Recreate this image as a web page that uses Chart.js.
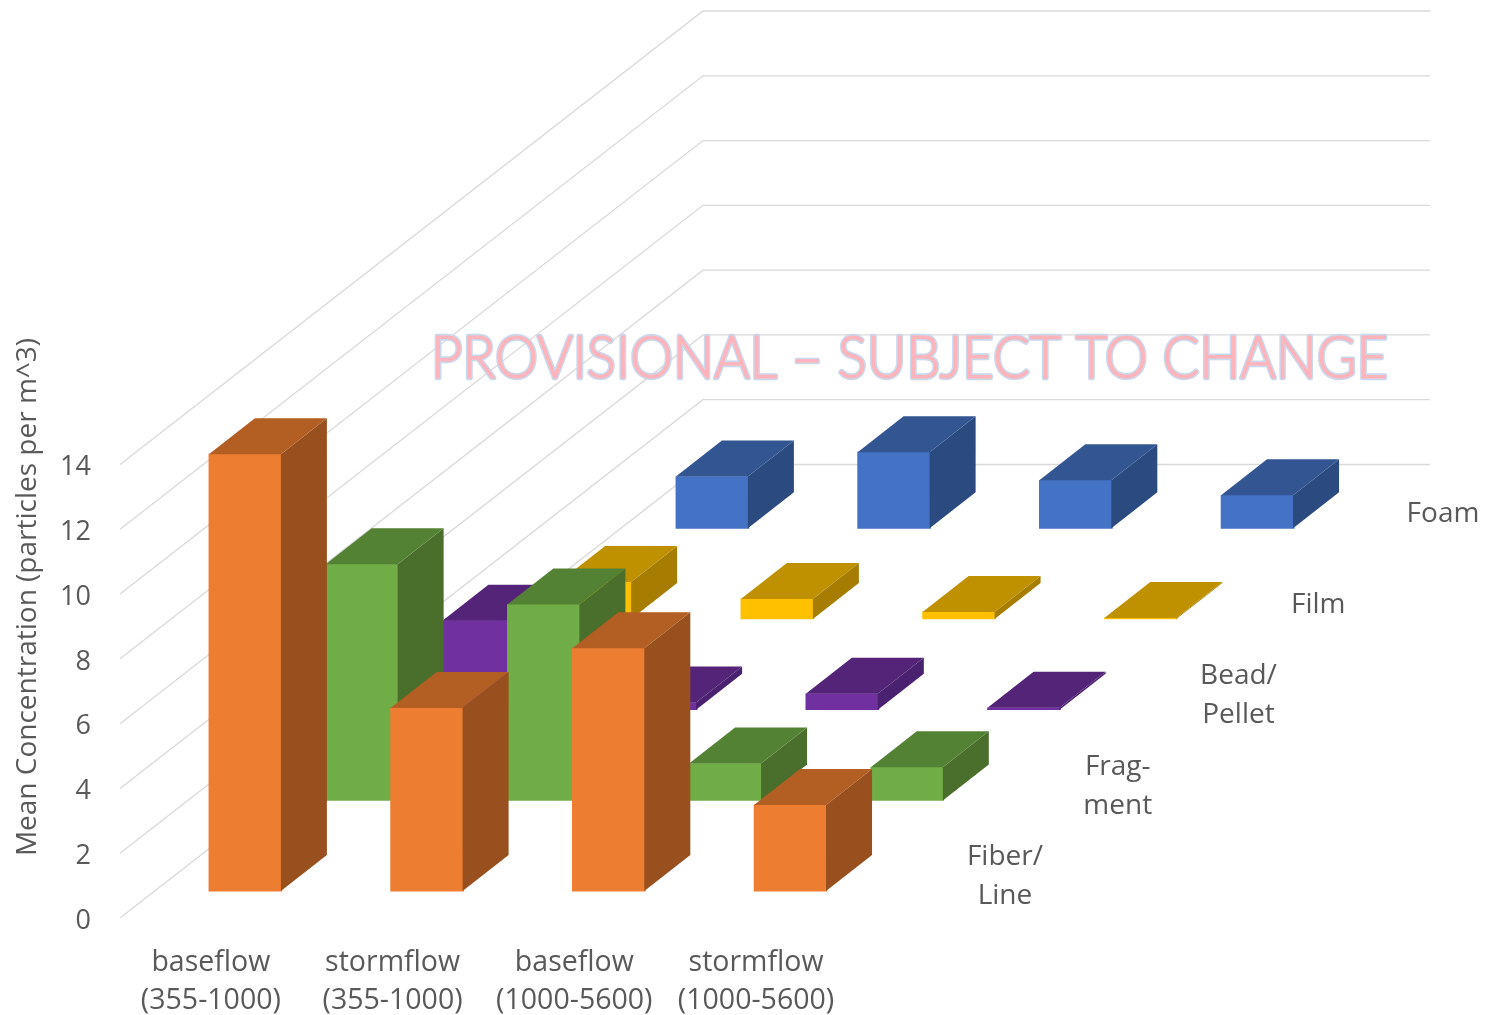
<!DOCTYPE html>
<html>
<head>
<meta charset="utf-8">
<title>Mean Concentration</title>
<script src="https://cdn.jsdelivr.net/npm/chart.js@4"></script>
<style>
    html, body { margin: 0; padding: 0; background: #fff; }
    canvas { display: block; }
</style>
</head>
<body>
<canvas id="concentrationChart" width="1485" height="1015"></canvas>
<script>
// Chart data
const categories = [
    ['baseflow', '(355-1000)'],
    ['stormflow', '(355-1000)'],
    ['baseflow', '(1000-5600)'],
    ['stormflow', '(1000-5600)']
];
const seriesNames = [['Fiber/', 'Line'], ['Frag-', 'ment'], ['Bead/', 'Pellet'], ['Film'], ['Foam']];
const fiberLine = [13.49, 5.65, 7.5, 2.66];
const fragment = [7.29, 6.05, 1.14, 1.02];
const beadPellet = [2.75, 0.22, 0.49, 0.06];
const film = [1.14, 0.62, 0.22, 0.03];
const foam = [1.6, 2.35, 1.48, 1.02];
const yTickValues = [0, 2, 4, 6, 8, 10, 12, 14];

// Colours per series: front, top, side
const frontColors = ['#ED7D31', '#70AD47', '#7030A0', '#FFC000', '#4472C4'];
const topColors = ['#B35E22', '#548235', '#542478', '#BF9000', '#335693'];
const sideColors = ['#97501E', '#4A6F2C', '#4A2070', '#A67D00', '#2A4A80'];
const allSeries = [fiberLine, fragment, beadPellet, film, foam];

// Fake 3D: every row further back moves right and up in scale units
const DEPTH_SHIFT_X = 0.6425;
const DEPTH_SHIFT_Y = 2.8;
const FLOOR_OFFSET = 0.83;
const WALL_SHIFT_X = 3.208;
const WALL_SHIFT_Y = 14;
const BAR_DEPTH_X = 46;
const BAR_DEPTH_Y = 36;
const TEXT_COLOR = '#595959';
const FONT = "'Open Sans', sans-serif";
const WATERMARK = 'PROVISIONAL – SUBJECT TO CHANGE';

const datasets = allSeries.map((values, d) => ({
    label: seriesNames[d].join(' '),
    data: values.map((v, i) => {
        const base = FLOOR_OFFSET + d * DEPTH_SHIFT_Y;
        return { x: i + d * DEPTH_SHIFT_X, y: [base, base + v] };
    }),
    backgroundColor: frontColors[d],
    topColor: topColors[d],
    sideColor: sideColors[d]
}));

function face(ctx, points, color) {
    ctx.fillStyle = color;
    ctx.beginPath();
    points.forEach((p, i) => (i ? ctx.lineTo(p[0], p[1]) : ctx.moveTo(p[0], p[1])));
    ctx.closePath();
    ctx.fill();
}

// Walls behind the bars
const wallsPlugin = {
    id: 'walls',
    beforeDatasetsDraw(chart) {
        const { ctx, scales: { x, y } } = chart;
        ctx.save();
        ctx.strokeStyle = '#D9D9D9';
        ctx.lineWidth = 1.3;
        yTickValues.forEach(v => {
            ctx.beginPath();
            ctx.moveTo(x.left, y.getPixelForValue(v));
            ctx.lineTo(x.getPixelForValue(x.min + WALL_SHIFT_X), y.getPixelForValue(v + WALL_SHIFT_Y));
            ctx.lineTo(x.right, y.getPixelForValue(v + WALL_SHIFT_Y));
            ctx.stroke();
        });
        ctx.restore();
    }
};

// Top and side of each bar, drawn right after its dataset so rows overlap properly
const boxPlugin = {
    id: 'box',
    afterDatasetDraw(chart, args) {
        const { ctx } = chart;
        const ds = chart.data.datasets[args.index];
        chart.getDatasetMeta(args.index).data.forEach(bar => {
            // -1 so no seam shows between the faces
            const right = bar.x + bar.width / 2 - 1;
            const left = bar.x - bar.width / 2;
            face(ctx, [[right, bar.y], [right, bar.base], [right + BAR_DEPTH_X, bar.base - BAR_DEPTH_Y], [right + BAR_DEPTH_X, bar.y - BAR_DEPTH_Y]], ds.sideColor);
            face(ctx, [[left, bar.y], [right, bar.y], [right + BAR_DEPTH_X, bar.y - BAR_DEPTH_Y], [left + BAR_DEPTH_X, bar.y - BAR_DEPTH_Y]], ds.topColor);
        });
    }
};

// Depth axis labels, y axis title and the watermark
const labelsPlugin = {
    id: 'labels',
    afterDraw(chart) {
        const { ctx, scales: { x, y } } = chart;
        const nudge = [0, -4, 0, -37, -29];
        ctx.save();
        ctx.fillStyle = TEXT_COLOR;
        ctx.font = '28px ' + FONT;
        ctx.textAlign = 'center';
        ctx.textBaseline = 'middle';
        seriesNames.forEach((lines, d) => {
            const cx = x.getPixelForValue(4.18 + d * DEPTH_SHIFT_X) + nudge[d];
            const cy = y.getPixelForValue(1.27 + d * DEPTH_SHIFT_Y);
            lines.forEach((line, i) => {
                ctx.fillText(line, cx, cy + (i - (lines.length - 1) / 2) * 39);
            });
        });

        ctx.save();
        ctx.translate(28, 597);
        ctx.rotate(-Math.PI / 2);
        ctx.fillText('Mean Concentration (particles per m^3)', 0, 0);
        ctx.restore();

        // Squeezed a bit, Lato alone runs wider than the original font
        ctx.font = '300 60px Lato, sans-serif';
        ctx.translate(909.5, 359);
        ctx.scale(957 / ctx.measureText(WATERMARK).width, 1);
        ctx.lineJoin = 'round';
        ctx.lineWidth = 4.5;
        ctx.strokeStyle = '#C9D9EE';
        ctx.strokeText(WATERMARK, 0, 0);
        ctx.lineWidth = 1.2;
        ctx.strokeStyle = '#FFB3BA';
        ctx.strokeText(WATERMARK, 0, 0);
        ctx.fillStyle = '#FFB3BA';
        ctx.fillText(WATERMARK, 0, 0);
        ctx.restore();
    }
};

new Chart(document.getElementById('concentrationChart'), {
    type: 'bar',
    data: { datasets: datasets },
    plugins: [wallsPlugin, boxPlugin, labelsPlugin],
    options: {
        responsive: false,
        animation: false,
        grouped: false,
        barThickness: 73,
        layout: { padding: { top: 11, right: 55, left: 0, bottom: 0 } },
        scales: {
            x: {
                type: 'linear',
                offset: false,
                min: -0.69,
                max: 6.519,
                grid: { display: false, drawTicks: false },
                border: { display: false },
                afterBuildTicks: scale => {
                    scale.ticks = categories.map((c, i) => ({ value: i - 0.19 }));
                },
                afterFit: scale => {
                    scale.height = 97;
                    scale.paddingLeft = 0;
                    scale.paddingRight = 0;
                },
                ticks: {
                    autoSkip: false,
                    maxRotation: 0,
                    padding: 25,
                    color: TEXT_COLOR,
                    font: { family: FONT, size: 28.5, lineHeight: 1.36 },
                    callback: (value, index) => categories[index]
                }
            },
            y: {
                min: 0,
                max: 28,
                grid: { display: false, drawTicks: false },
                border: { display: false },
                afterBuildTicks: scale => {
                    scale.ticks = yTickValues.map(v => ({ value: v }));
                },
                afterFit: scale => {
                    scale.width = 120;
                    scale.paddingTop = 0;
                    scale.paddingBottom = 0;
                },
                ticks: {
                    padding: 29,
                    labelOffset: 3,
                    color: TEXT_COLOR,
                    font: { family: FONT, size: 27 }
                }
            }
        },
        plugins: {
            legend: { display: false },
            title: { display: false },
            tooltip: { enabled: false }
        }
    }
});
</script>
</body>
</html>
